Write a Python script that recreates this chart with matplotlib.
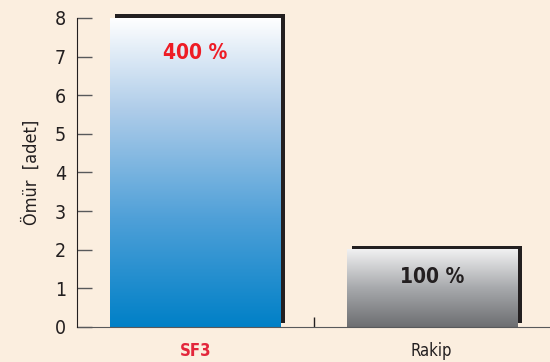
import numpy as np
import matplotlib
matplotlib.use('Agg')
import matplotlib.pyplot as plt
from matplotlib import font_manager
from matplotlib.colors import LinearSegmentedColormap
from matplotlib.transforms import offset_copy

# Ömür karşılaştırması: SF3 ve rakip ürün
categories = ['SF3', 'Rakip']
values = [8, 2]
percent_labels = ['400 %', '100 %']
yticks = [0, 1, 2, 3, 4, 5, 6, 7, 8]

names = {f.name for f in font_manager.fontManager.ttflist}
family = 'Liberation Sans Narrow' if 'Liberation Sans Narrow' in names else 'DejaVu Sans'
plt.rcParams['font.family'] = [family, 'DejaVu Sans']
plt.rcParams['font.stretch'] = 'condensed'

bg = '#FBEEDF'
dark = '#231F20'
red = '#EE1C25'

fig = plt.figure(figsize=(5.5, 3.62), dpi=100, facecolor=bg)
ax = fig.add_axes([0.14, 0.0967, 0.86, 0.8536], facecolor=bg)

ax.set_xlim(-0.5, 1.5)
ax.set_ylim(0, 8)

width = 0.72
cmaps = [
    LinearSegmentedColormap.from_list('mavi', [(0, '#0080C7'), (0.35, '#4FA0D8'),
                                               (0.7, '#AECCE9'), (1, '#FFFFFF')]),
    LinearSegmentedColormap.from_list('gri', [(0, '#6D6E71'), (0.5, '#A7A9AC'),
                                              (1, '#F1F1F2')]),
]

# gölge: sağ üste kaydırılmış koyu dikdörtgen
shadow_tr = offset_copy(ax.transData, fig=fig, x=5, y=4, units='dots')
grad = np.linspace(0, 1, 256).reshape(-1, 1)

for i, (v, cm) in enumerate(zip(values, cmaps)):
    ax.bar(i, v, width=width, bottom=0, color=dark, transform=shadow_tr,
           zorder=1, clip_on=False)
    ax.imshow(grad, cmap=cm, origin='lower', aspect='auto',
              extent=(i - width / 2, i + width / 2, 0, v), zorder=2)

ax.set_xlim(-0.5, 1.5)
ax.set_ylim(0, 8)

ax.text(0, 7.1, percent_labels[0], ha='center', va='center', fontsize=15,
        fontweight='bold', color=red, zorder=3)
ax.text(1, 1.3, percent_labels[1], ha='center', va='center', fontsize=15,
        fontweight='bold', color=dark, zorder=3)

ax.set_yticks(yticks)
ax.tick_params(axis='y', direction='in', length=11, width=1, color='#58595B',
               labelsize=14, labelcolor=dark, pad=8)
ax.set_xticks([0, 1])
ax.set_xticklabels(categories)
ax.tick_params(axis='x', length=0, labelsize=12, pad=11)
lbls = ax.get_xticklabels()
lbls[0].set_color('#E3263B')
lbls[0].set_fontweight('bold')
lbls[1].set_color(dark)
ax.set_xticks([0.5], minor=True)
ax.tick_params(axis='x', which='minor', direction='in', length=7, width=1, color=dark)

ax.set_ylabel('Ömür  [adet]', fontsize=13, color=dark, labelpad=10)

for s in ['top', 'right']:
    ax.spines[s].set_visible(False)
ax.spines['left'].set_color(dark)
ax.spines['bottom'].set_color('#58595B')
ax.spines['left'].set_zorder(4)

fig.savefig('out.png', dpi=100, facecolor=bg)
